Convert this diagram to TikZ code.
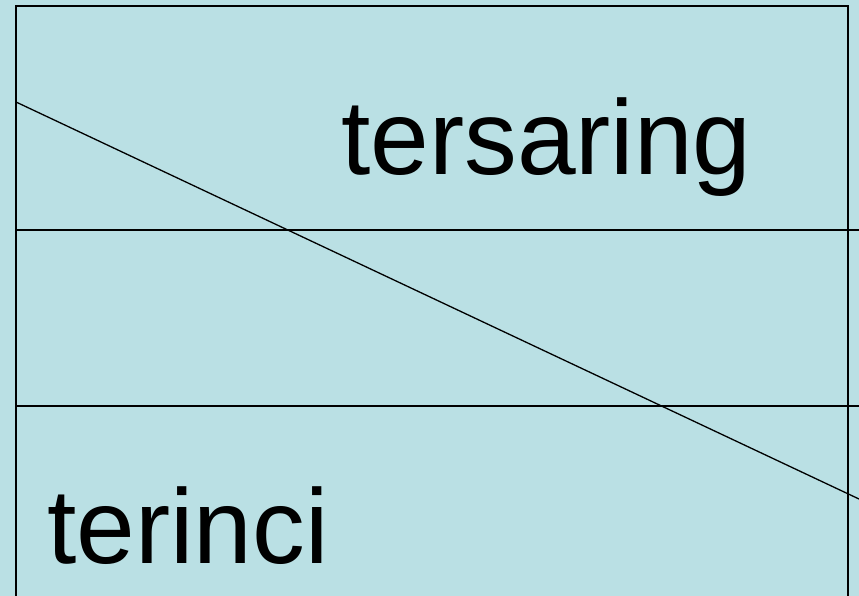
\documentclass[tikz,border=0pt]{standalone}
\usepackage{fontspec}
\setmainfont{Liberation Sans}
\definecolor{bgblue}{RGB}{186,224,228}
\begin{document}
\begin{tikzpicture}[x=1pt,y=-1pt,
  rule/.style={line width=1.3pt,black},
  label/.style={anchor=base west,inner sep=0pt,font=\fontsize{106}{106}\selectfont,xscale=0.995,transform shape}]
\fill[bgblue] (0,0) rectangle (859,596);
\useasboundingbox (0,0) rectangle (859,596);
\coordinate (tl) at (16,6);
\coordinate (tr) at (848,6);
\coordinate (bl) at (16,600);
\coordinate (br) at (848,600);
\coordinate (h1l) at (16,230);
\coordinate (h1r) at (862,230);
\coordinate (h2l) at (16,406);
\coordinate (h2r) at (862,406);
\coordinate (d1) at (16,102);
\coordinate (d2) at (859,499);
\draw[rule] (bl) -- (tl) -- (tr) -- (br);
\draw[rule] (h1l) -- (h1r);
\draw[rule] (h2l) -- (h2r);
\draw[rule] (d1) -- (d2);
\node[label] (top) at (341,175) {tersaring};
\node[label] (bot) at (47,563) {terinci};
\end{tikzpicture}
\end{document}
